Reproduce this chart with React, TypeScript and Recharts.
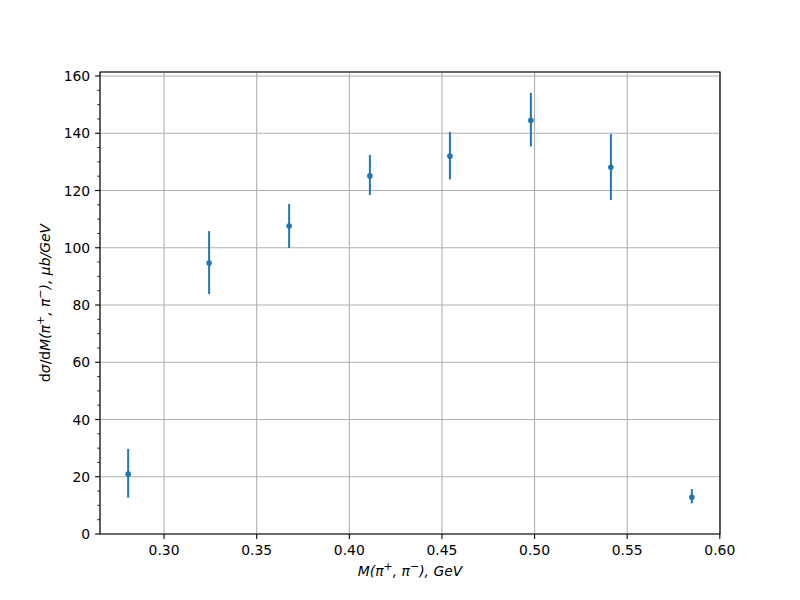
import React from "react";
import {
  ScatterChart,
  Scatter,
  XAxis,
  YAxis,
  CartesianGrid,
  ErrorBar,
  ReferenceArea,
} from "recharts";

// invariant mass bin centres (GeV)
const massValues = [0.2806, 0.3243, 0.3675, 0.4111, 0.4543, 0.498, 0.5412, 0.5849];
// d sigma / dM, mub/GeV
const xsecValues = [20.9, 94.7, 107.6, 125.1, 132.0, 144.5, 128.1, 12.8];
const errLow = [8.2, 10.9, 7.7, 6.7, 8.1, 9.1, 11.4, 2.1];
const errHigh = [8.8, 11.1, 7.7, 7.3, 8.4, 9.6, 11.6, 2.9];

const xMajorTicks = [0.3, 0.35, 0.4, 0.45, 0.5, 0.55, 0.6];
const xMinorTicks = [
  0.27, 0.28, 0.29, 0.31, 0.32, 0.33, 0.34, 0.36, 0.37, 0.38, 0.39, 0.41, 0.42,
  0.43, 0.44, 0.46, 0.47, 0.48, 0.49, 0.51, 0.52, 0.53, 0.54, 0.56, 0.57, 0.58,
  0.59,
];
const yMajorTicks = [0, 20, 40, 60, 80, 100, 120, 140, 160];
const yMinorTicks = [
  5, 10, 15, 25, 30, 35, 45, 50, 55, 65, 70, 75, 85, 90, 95, 105, 110, 115,
  125, 130, 135, 145, 150, 155,
];

const xDomain: [number, number] = [0.2654, 0.6001];
const yDomain: [number, number] = [0, 161.4];

const BLUE = "#1f77b4";
const FONT = "DejaVu Sans";
const FS = 13.9;

const data = massValues.map((m, i) => ({
  m,
  v: xsecValues[i],
  err: [errLow[i], errHigh[i]],
}));

const XMajorTick = (props: any) => {
  const { x, y, payload } = props;
  return (
    <g>
      <line x1={x} x2={x} y1={y} y2={y + 4.9} stroke="#000" strokeWidth={1.1} />
      <text
        x={x}
        y={y + 21}
        textAnchor="middle"
        fontFamily={FONT}
        fontSize={FS}
        fill="#000"
      >
        {payload.value.toFixed(2)}
      </text>
    </g>
  );
};

// minor axis sits 1px below the major one
const XMinorTick = (props: any) => {
  const { x, y } = props;
  return <line x1={x} x2={x} y1={y - 1} y2={y + 1.8} stroke="#000" strokeWidth={0.8} />;
};

const YMajorTick = (props: any) => {
  const { x, y, payload } = props;
  return (
    <g>
      <line x1={x - 4.9} x2={x} y1={y} y2={y} stroke="#000" strokeWidth={1.1} />
      <text
        x={x - 9.8}
        y={y + 5}
        textAnchor="end"
        fontFamily={FONT}
        fontSize={FS}
        fill="#000"
      >
        {payload.value}
      </text>
    </g>
  );
};

// minor axis sits 1px left of the major one
const YMinorTick = (props: any) => {
  const { x, y } = props;
  return <line x1={x - 1.8} x2={x + 1} y1={y} y2={y} stroke="#000" strokeWidth={0.8} />;
};

const Dot = (props: any) => <circle cx={props.cx} cy={props.cy} r={2.8} fill={BLUE} />;

export default function App() {
  return (
    <div style={{ position: "absolute", left: 0, top: 0, width: 800, height: 600, background: "#fff" }}>
      <ScatterChart
        width={800}
        height={600}
        margin={{ top: 72, right: 80, bottom: 64, left: 98 }}
      >
        <CartesianGrid stroke="#b0b0b0" strokeWidth={1.1} />
        <XAxis
          type="number"
          dataKey="m"
          domain={xDomain}
          allowDataOverflow
          ticks={xMajorTicks}
          interval={0}
          height={1}
          tickSize={0}
          tickMargin={0}
          tickLine={false}
          axisLine={false}
          tick={XMajorTick}
        />
        <XAxis
          xAxisId="minor"
          type="number"
          domain={xDomain}
          allowDataOverflow
          ticks={xMinorTicks}
          interval={0}
          height={1}
          tickSize={0}
          tickMargin={0}
          tickLine={false}
          axisLine={false}
          tick={XMinorTick}
        />
        <YAxis
          type="number"
          dataKey="v"
          domain={yDomain}
          allowDataOverflow
          ticks={yMajorTicks}
          interval={0}
          width={1}
          tickSize={0}
          tickMargin={0}
          tickLine={false}
          axisLine={false}
          tick={YMajorTick}
        />
        <YAxis
          yAxisId="minor"
          type="number"
          domain={yDomain}
          allowDataOverflow
          ticks={yMinorTicks}
          interval={0}
          width={1}
          tickSize={0}
          tickMargin={0}
          tickLine={false}
          axisLine={false}
          tick={YMinorTick}
        />
        <ReferenceArea
          x1={xDomain[0]}
          x2={xDomain[1]}
          y1={yDomain[0]}
          y2={yDomain[1]}
          fill="none"
          fillOpacity={0}
          stroke="#000"
          strokeWidth={1.1}
          ifOverflow="visible"
        />
        <Scatter data={data} shape={Dot} isAnimationActive={false}>
          <ErrorBar
            dataKey="err"
            direction="y"
            width={0}
            stroke={BLUE}
            strokeWidth={2}
            isAnimationActive={false}
          />
        </Scatter>
      </ScatterChart>
      <svg
        width={800}
        height={600}
        style={{ position: "absolute", left: 0, top: 0, pointerEvents: "none" }}
      >
        <text
          x={410}
          y={576}
          textAnchor="middle"
          fontFamily={FONT}
          fontSize={FS}
          fontStyle="italic"
          fill="#000"
        >
          M(π<tspan fontSize={11} dy={-6}>+</tspan>
          <tspan dy={6}>, π</tspan>
          <tspan fontSize={11} dy={-6}>−</tspan>
          <tspan dy={6}>), GeV</tspan>
        </text>
        <text
          transform="translate(50,303) rotate(-90)"
          textAnchor="middle"
          fontFamily={FONT}
          fontSize={FS}
          fill="#000"
        >
          d<tspan fontStyle="italic">σ</tspan>/d
          <tspan fontStyle="italic">M(π</tspan>
          <tspan fontStyle="italic" fontSize={11} dy={-6}>+</tspan>
          <tspan fontStyle="italic" dy={6}>, π</tspan>
          <tspan fontStyle="italic" fontSize={11} dy={-6}>−</tspan>
          <tspan fontStyle="italic" dy={6}>), μb/GeV</tspan>
        </text>
      </svg>
    </div>
  );
}
